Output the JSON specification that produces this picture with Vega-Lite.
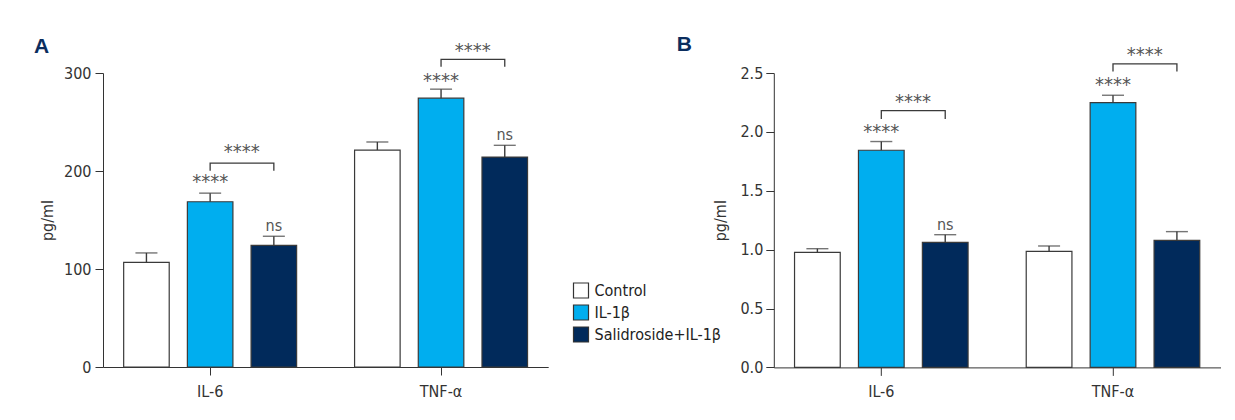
{
  "$schema": "https://vega.github.io/schema/vega-lite/v6.json",
  "autosize": {"type": "pad"},
  "padding": {"left": 34, "top": 34, "right": 5, "bottom": 5},
  "background": "white",
  "bounds": "flush",
  "spacing": 224.8,
  "config": {
    "font": "Liberation Sans Narrow, DejaVu Sans Condensed, sans-serif",
    "view": {"stroke": null},
    "axis": {
      "domainColor": "#333333",
      "tickColor": "#333333",
      "labelColor": "#333333",
      "titleColor": "#333333",
      "labelFont": "Liberation Sans Narrow, DejaVu Sans Condensed, sans-serif",
      "titleFont": "Liberation Sans Narrow, DejaVu Sans Condensed, sans-serif",
      "labelFontSize": 16,
      "titleFontSize": 16,
      "titleFontWeight": "normal",
      "tickSize": 8,
      "grid": false
    },
    "legend": {
      "labelFont": "Liberation Sans Narrow, DejaVu Sans Condensed, sans-serif",
      "labelFontSize": 16,
      "labelColor": "#222222"
    },
    "title": {
      "font": "Liberation Sans, Arial, sans-serif",
      "fontSize": 21,
      "fontWeight": "bold",
      "color": "#0b2d5e",
      "anchor": "start",
      "frame": "group"
    }
  },
  "datasets": {
    "barsA": [
      {"cytokine": "IL-6", "group": "Control", "mean": 106.8, "upper": 116.4},
      {"cytokine": "IL-6", "group": "IL-1β", "mean": 168.6, "upper": 177.4},
      {"cytokine": "IL-6", "group": "Salidroside+IL-1β", "mean": 124.2, "upper": 133.4},
      {"cytokine": "TNF-α", "group": "Control", "mean": 221.4, "upper": 229.6},
      {"cytokine": "TNF-α", "group": "IL-1β", "mean": 274.3, "upper": 283.5},
      {"cytokine": "TNF-α", "group": "Salidroside+IL-1β", "mean": 214.2, "upper": 226.2}
    ],
    "barsB": [
      {"cytokine": "IL-6", "group": "Control", "mean": 0.977, "upper": 1.008},
      {"cytokine": "IL-6", "group": "IL-1β", "mean": 1.844, "upper": 1.918},
      {"cytokine": "IL-6", "group": "Salidroside+IL-1β", "mean": 1.062, "upper": 1.127},
      {"cytokine": "TNF-α", "group": "Control", "mean": 0.986, "upper": 1.031},
      {"cytokine": "TNF-α", "group": "IL-1β", "mean": 2.249, "upper": 2.311},
      {"cytokine": "TNF-α", "group": "Salidroside+IL-1β", "mean": 1.079, "upper": 1.153}
    ],
    "starsA": [
      {"cytokine": "IL-6", "group": "IL-1β", "y": 193, "label": "****"},
      {"cytokine": "TNF-α", "group": "IL-1β", "y": 295.5, "label": "****"}
    ],
    "nsA": [
      {"cytokine": "IL-6", "group": "Salidroside+IL-1β", "y": 144, "label": "ns"},
      {"cytokine": "TNF-α", "group": "Salidroside+IL-1β", "y": 236.4, "label": "ns"}
    ],
    "starsB": [
      {"cytokine": "IL-6", "group": "IL-1β", "y": 2.031, "label": "****"},
      {"cytokine": "TNF-α", "group": "IL-1β", "y": 2.43, "label": "****"}
    ],
    "nsB": [
      {"cytokine": "IL-6", "group": "Salidroside+IL-1β", "y": 1.212, "label": "ns"}
    ],
    "brkTextA": [
      {"cytokine": "IL-6", "group": "IL-1β", "y": 223.8, "label": "****"},
      {"cytokine": "TNF-α", "group": "IL-1β", "y": 326.8, "label": "****"}
    ],
    "brkTextB": [
      {"cytokine": "IL-6", "group": "IL-1β", "y": 2.286, "label": "****"},
      {"cytokine": "TNF-α", "group": "IL-1β", "y": 2.685, "label": "****"}
    ],
    "brkA": [
      {"id": "a1", "ord": 1, "cytokine": "IL-6", "group": "IL-1β", "y": 200.3},
      {"id": "a1", "ord": 2, "cytokine": "IL-6", "group": "IL-1β", "y": 208.1},
      {"id": "a1", "ord": 3, "cytokine": "IL-6", "group": "Salidroside+IL-1β", "y": 208.1},
      {"id": "a1", "ord": 4, "cytokine": "IL-6", "group": "Salidroside+IL-1β", "y": 200.3},
      {"id": "a2", "ord": 1, "cytokine": "TNF-α", "group": "IL-1β", "y": 306.4},
      {"id": "a2", "ord": 2, "cytokine": "TNF-α", "group": "IL-1β", "y": 313.9},
      {"id": "a2", "ord": 3, "cytokine": "TNF-α", "group": "Salidroside+IL-1β", "y": 313.9},
      {"id": "a2", "ord": 4, "cytokine": "TNF-α", "group": "Salidroside+IL-1β", "y": 306.4}
    ],
    "brkB": [
      {"id": "b1", "ord": 1, "cytokine": "IL-6", "group": "IL-1β", "y": 2.11},
      {"id": "b1", "ord": 2, "cytokine": "IL-6", "group": "IL-1β", "y": 2.181},
      {"id": "b1", "ord": 3, "cytokine": "IL-6", "group": "Salidroside+IL-1β", "y": 2.181},
      {"id": "b1", "ord": 4, "cytokine": "IL-6", "group": "Salidroside+IL-1β", "y": 2.11},
      {"id": "b2", "ord": 1, "cytokine": "TNF-α", "group": "IL-1β", "y": 2.512},
      {"id": "b2", "ord": 2, "cytokine": "TNF-α", "group": "IL-1β", "y": 2.578},
      {"id": "b2", "ord": 3, "cytokine": "TNF-α", "group": "Salidroside+IL-1β", "y": 2.578},
      {"id": "b2", "ord": 4, "cytokine": "TNF-α", "group": "Salidroside+IL-1β", "y": 2.512}
    ]
  },
  "resolve": {
    "scale": {"x": "independent", "y": "independent", "xOffset": "independent"},
    "legend": {"color": "independent"}
  },
  "hconcat": [
    {
      "width": 445.2,
      "height": 294,
      "title": {"text": "A", "dx": -69, "offset": -16.5},
      "encoding": {
        "x": {
          "field": "cytokine", "type": "nominal", "sort": ["IL-6", "TNF-α"],
          "scale": {"paddingInner": 0.251, "paddingOuter": 0.0895},
          "axis": {"title": null, "labelAngle": 0, "labelPadding": 8}
        },
        "xOffset": {
          "field": "group", "type": "nominal", "sort": ["Control", "IL-1β", "Salidroside+IL-1β"],
          "scale": {"paddingInner": 0.285, "paddingOuter": 0}
        }
      },
      "layer": [
        {
          "data": {"name": "barsA"},
          "mark": {"type": "bar", "stroke": "#3a3a3a", "strokeWidth": 1.2},
          "encoding": {
            "y": {
              "field": "mean", "type": "quantitative",
              "scale": {"domain": [0, 300], "nice": false, "zero": true},
              "axis": {"title": "pg/ml", "values": [0, 100, 200, 300], "titlePadding": 8, "labelPadding": 4}
            },
            "color": {
              "field": "group", "type": "nominal",
              "scale": {"domain": ["Control", "IL-1β", "Salidroside+IL-1β"], "range": ["#ffffff", "#00aeef", "#012a5b"]},
              "legend": {
                "title": null, "orient": "none", "legendX": 469.5, "legendY": 209,
                "symbolType": "square", "symbolSize": 225, "symbolStrokeColor": "#333333",
                "symbolStrokeWidth": 1.2, "rowPadding": 1, "labelOffset": 5
              }
            }
          }
        },
        {
          "data": {"name": "barsA"},
          "mark": {"type": "rule", "color": "#3a3a3a", "strokeWidth": 1.4},
          "encoding": {
            "y": {"field": "mean", "type": "quantitative"},
            "y2": {"field": "upper"}
          }
        },
        {
          "data": {"name": "barsA"},
          "mark": {"type": "tick", "color": "#3a3a3a", "size": 22, "thickness": 1.4},
          "encoding": {
            "y": {"field": "upper", "type": "quantitative"}
          }
        },
        {
          "data": {"name": "starsA"},
          "mark": {"type": "text", "fontSize": 20, "color": "#555555", "baseline": "middle", "dy": 4},
          "encoding": {
            "y": {"field": "y", "type": "quantitative"},
            "text": {"field": "label"}
          }
        },
        {
          "data": {"name": "nsA"},
          "mark": {"type": "text", "fontSize": 16, "color": "#555555", "baseline": "middle"},
          "encoding": {
            "y": {"field": "y", "type": "quantitative"},
            "text": {"field": "label"}
          }
        },
        {
          "data": {"name": "brkTextA"},
          "mark": {"type": "text", "fontSize": 20, "color": "#555555", "baseline": "middle", "dx": 31.7, "dy": 4},
          "encoding": {
            "y": {"field": "y", "type": "quantitative"},
            "text": {"field": "label"}
          }
        },
        {
          "data": {"name": "brkA"},
          "mark": {"type": "line", "color": "#3a3a3a", "strokeWidth": 1.3},
          "encoding": {
            "y": {"field": "y", "type": "quantitative"},
            "detail": {"field": "id"},
            "order": {"field": "ord"}
          }
        }
      ]
    },
    {
      "width": 446.7,
      "height": 294.4,
      "title": {"text": "B", "dx": -97, "offset": -10.2},
      "encoding": {
        "x": {
          "field": "cytokine", "type": "nominal", "sort": ["IL-6", "TNF-α"],
          "scale": {"paddingInner": 0.251, "paddingOuter": 0.0895},
          "axis": {"title": null, "labelAngle": 0, "labelPadding": 8}
        },
        "xOffset": {
          "field": "group", "type": "nominal", "sort": ["Control", "IL-1β", "Salidroside+IL-1β"],
          "scale": {"paddingInner": 0.285, "paddingOuter": 0}
        }
      },
      "layer": [
        {
          "data": {"name": "barsB"},
          "mark": {"type": "bar", "stroke": "#3a3a3a", "strokeWidth": 1.2},
          "encoding": {
            "y": {
              "field": "mean", "type": "quantitative",
              "scale": {"domain": [0, 2.5], "nice": false, "zero": true},
              "axis": {"title": "pg/ml", "values": [0, 0.5, 1, 1.5, 2, 2.5], "format": ".1f", "titlePadding": 11, "labelPadding": 3}
            },
            "color": {
              "field": "group", "type": "nominal",
              "scale": {"domain": ["Control", "IL-1β", "Salidroside+IL-1β"], "range": ["#ffffff", "#00aeef", "#012a5b"]},
              "legend": null
            }
          }
        },
        {
          "data": {"name": "barsB"},
          "mark": {"type": "rule", "color": "#3a3a3a", "strokeWidth": 1.4},
          "encoding": {
            "y": {"field": "mean", "type": "quantitative"},
            "y2": {"field": "upper"}
          }
        },
        {
          "data": {"name": "barsB"},
          "mark": {"type": "tick", "color": "#3a3a3a", "size": 22, "thickness": 1.4},
          "encoding": {
            "y": {"field": "upper", "type": "quantitative"}
          }
        },
        {
          "data": {"name": "starsB"},
          "mark": {"type": "text", "fontSize": 20, "color": "#555555", "baseline": "middle", "dy": 4},
          "encoding": {
            "y": {"field": "y", "type": "quantitative"},
            "text": {"field": "label"}
          }
        },
        {
          "data": {"name": "nsB"},
          "mark": {"type": "text", "fontSize": 16, "color": "#555555", "baseline": "middle"},
          "encoding": {
            "y": {"field": "y", "type": "quantitative"},
            "text": {"field": "label"}
          }
        },
        {
          "data": {"name": "brkTextB"},
          "mark": {"type": "text", "fontSize": 20, "color": "#555555", "baseline": "middle", "dx": 31.7, "dy": 4},
          "encoding": {
            "y": {"field": "y", "type": "quantitative"},
            "text": {"field": "label"}
          }
        },
        {
          "data": {"name": "brkB"},
          "mark": {"type": "line", "color": "#3a3a3a", "strokeWidth": 1.3},
          "encoding": {
            "y": {"field": "y", "type": "quantitative"},
            "detail": {"field": "id"},
            "order": {"field": "ord"}
          }
        }
      ]
    }
  ]
}
